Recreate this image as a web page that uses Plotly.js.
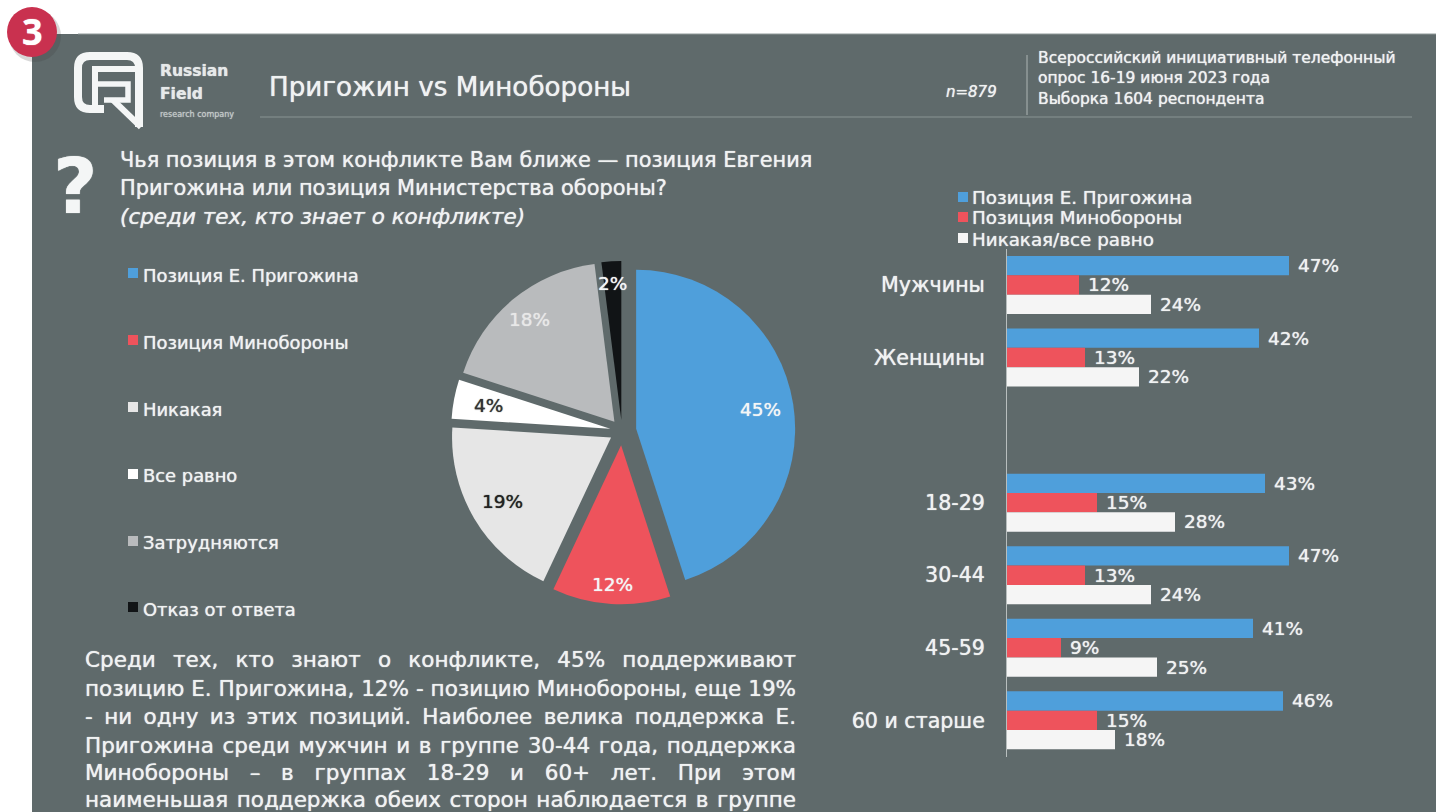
<!DOCTYPE html>
<html>
<head>
<meta charset="utf-8">
<script src="https://cdn.plot.ly/plotly-3.0.1.min.js"></script>
<style>html,body{margin:0;padding:0;background:#fff;overflow:hidden}</style>
</head>
<body>
<div id="chart" style="width:1449px;height:812px"></div>
<script>
// ---------- data ----------
const pieLabels = ['Позиция Е. Пригожина','Позиция Минобороны','Никакая','Все равно','Затрудняются','Отказ от ответа'];
const pieValues = [45,12,19,4,18,2];
const pieColors = ['#4f9fdb','#ee535c','#e6e6e6','#ffffff','#b9bbbd','#111416'];
const pieTextColors = ['#f4f6f6','#f4f6f6','#222222','#333333','#e8e8e8','#f4f6f6'];

const barCategories = ['Мужчины','Женщины',' ','18-29','30-44','45-59','60 и старше'];
const seriesNames = ['Позиция Е. Пригожина','Позиция Минобороны','Никакая/все равно'];
const prigozhin = [47,42,null,43,47,41,46];
const minoborony = [12,13,null,15,13,9,15];
const noneCare = [24,22,null,28,24,25,18];
const barColors = ['#4f9fdb','#ee535c','#f5f5f5'];

const paragraphLines = [
 'Среди тех, кто знают о конфликте, 45% поддерживают',
 'позицию Е. Пригожина, 12% - позицию Минобороны, еще 19%',
 '- ни одну из этих позиций. Наиболее велика поддержка Е.',
 'Пригожина среди мужчин и в группе 30-44 года, поддержка',
 'Минобороны – в группах 18-29 и 60+ лет. При этом',
 'наименьшая поддержка обеих сторон наблюдается в группе'
];
const surveyLines = ['Всероссийский инициативный телефонный','опрос 16-19 июня 2023 года','Выборка 1604 респондента'];
const questionLines = ['Чья позиция в этом конфликте Вам ближе — позиция Евгения','Пригожина или позиция Министерства обороны?'];
const questionNote = '(среди тех, кто знает о конфликте)';
const titleText = 'Пригожин vs Минобороны';
const sampleText = 'n=879';

// ---------- layout helpers ----------
const W = 1449, H = 812;
const px = x => x / W, py = y => 1 - y / H;
const SANS = '"DejaVu Sans", sans-serif';
const PANEL = '#5f6a6b', TXT = '#f0f2f2';
function note(text, x, y, size, opt) {
  opt = opt || {};
  const color = opt.color||TXT;
  return {text, xref:'paper', yref:'paper', x:px(x), y:py(y), showarrow:false,
    xanchor:opt.xanchor||'left', yanchor:'middle', align:opt.xanchor||'left', borderpad:0,
    font:{family:opt.family||SANS, size, color, shadow:'0 0 1px '+color}};
}
function rect(x0,y0,x1,y1,color,layer){
  return {type:'rect',xref:'paper',yref:'paper',x0:px(x0),x1:px(x1),y0:py(y0),y1:py(y1),
    fillcolor:color,line:{width:0},layer:layer||'below'};
}
function line(x0,y0,x1,y1,color,w){
  return {type:'line',xref:'paper',yref:'paper',x0:px(x0),x1:px(x1),y0:py(y0),y1:py(y1),
    line:{color,width:w||1},layer:'below'};
}
function circle(cx,cy,r,color){
  return {type:'circle',xref:'paper',yref:'paper',x0:px(cx-r),x1:px(cx+r),y0:py(cy+r),y1:py(cy-r),
    fillcolor:color,line:{width:0},layer:'below'};
}
// logo strokes, given in pixels
function logoPath(points, w){
  const d = points.map((p,i)=>{
    if (p.length===4) return 'Q '+px(p[0])+' '+py(p[1])+' '+px(p[2])+' '+py(p[3]);
    return (i?'L ':'M ')+px(p[0])+' '+py(p[1]);
  }).join(' ');
  return {type:'path',xref:'paper',yref:'paper',path:d,line:{color:'#f4f6f6',width:w},layer:'below'};
}

// ---------- pie ----------
const PIE_CX = 622, PIE_CY = 431, PIE_R = 159, MAX_PULL = 0.09;
const piePull = [0.09,0.09,0.08,0.075,0.075,0.07];
const pieOuter = PIE_R*(1+MAX_PULL);
const pieLabelRadius = [0.88,0.97,0.87,0.855,0.91,0.93];

const traces = [{
  type:'pie', labels:pieLabels, values:pieValues, sort:false, direction:'clockwise', rotation:0,
  pull:piePull, marker:{colors:pieColors,line:{width:0}},
  textinfo:'none', showlegend:false, hoverinfo:'label+percent',
  domain:{x:[px(PIE_CX-pieOuter),px(PIE_CX+pieOuter)],y:[py(PIE_CY+pieOuter),py(PIE_CY-pieOuter)]}
}];
[prigozhin,minoborony,noneCare].forEach((vals,i)=>{
  traces.push({
    type:'bar', orientation:'h', name:seriesNames[i], y:barCategories, x:vals,
    marker:{color:barColors[i]}, xaxis:'x', yaxis:'y',
    text:vals.map(v=>v===null?'':'\u00a0'+v+'%'), textposition:'outside', cliponaxis:false,
    constraintext:'none',
    textfont:{family:SANS,size:18.5,color:TXT,shadow:'0 0 1px '+TXT}, showlegend:false
  });
});

// ---------- annotations ----------
const annotations = [];
annotations.push(note('<b>3</b>',32,32,36,{xanchor:'center',color:'#ffffff',family:'"Noto Sans", sans-serif'}));
annotations.push(note('<b>Russian</b>',158.5,71,15.5,{color:'#e6e9e9'}));
annotations.push(note('<b>Field</b>',158.5,94,15.5,{color:'#e6e9e9'}));
annotations.push(note('research company',158.5,114,8,{color:'#c4caca'}));
annotations.push(note(titleText,268,87,26.2));
annotations.push(note('<i>'+sampleText+'</i>',945,92,15));
surveyLines.forEach((t,i)=>annotations.push(note(t,1036.5,[58,78,99][i],15.5)));
annotations.push(note('<b>?</b>',52,186,77,{color:'#f4f6f6'}));
questionLines.forEach((t,i)=>annotations.push(note(t,119,[160,188][i],20.9)));
annotations.push(note('<i>'+questionNote+'</i>',119,217,21.5));
pieLabels.forEach((t,i)=>annotations.push(note(t,142,[275,342,409,476,542,609][i],17.9)));
seriesNames.forEach((t,i)=>annotations.push(note(t,971,[198,218,239][i],18.3)));
// pie percent labels from slice mid-angles
let cum = 0; const total = pieValues.reduce((a,b)=>a+b,0);
pieValues.forEach((v,i)=>{
  const mid = (cum+v/2)/total*2*Math.PI; cum += v;
  const r = PIE_R*pieLabelRadius[i];
  annotations.push(note(v+'%',PIE_CX+r*Math.sin(mid),PIE_CY-r*Math.cos(mid),18.5,{xanchor:'center',color:pieTextColors[i]}));
});
const firstParagraph = annotations.length;
const paragraphY = [659,688,716,745,772,799];
paragraphLines.forEach((t,i)=>annotations.push(note(t,84,paragraphY[i],21.5)));

// ---------- shapes ----------
const shapes = [
  rect(32,34,1436,812,PANEL),
  line(78,34,1436,34,'#8f9898',1),
  line(260,117,1412,117,'#8a9494',1),
  line(1027,55,1027,115,'#aeb5b5',1),
  circle(35,36,26,'rgba(60,60,60,0.2)'),
  circle(32,32,25,'#c9314f'),
  logoPath([[104,109],[90,109],[78,109,78,97],[78,68],[78,56,90,56],[127,56],[139,56,139,68],[139,127]],8),
  logoPath([[95,112],[95,69],[137,69]],6),
  logoPath([[96,84],[128,84],[128,100],[104,100]],5.5),
  logoPath([[113,100],[141,127]],6),
];
pieColors.forEach((c,i)=>{const y=[273,340,407,474,541,607][i];shapes.push(rect(128,y-5,138,y+5,c));});
barColors.forEach((c,i)=>{const y=[197,217,238][i];shapes.push(rect(958,y-5,968,y+5,c));});

const layout = {
  width:W, height:H, margin:{l:0,r:0,t:0,b:0}, paper_bgcolor:'#ffffff', plot_bgcolor:'rgba(0,0,0,0)',
  barmode:'group', bargap:0.2, bargroupgap:0, showlegend:false,
  xaxis:{domain:[px(1007),px(1367)],range:[0,60],visible:false,fixedrange:true},
  yaxis:{domain:[py(756.6),py(248.7)],type:'category',categoryorder:'array',categoryarray:barCategories,
    autorange:'reversed',showgrid:false,zeroline:false,showline:true,linecolor:'#b8bebe',linewidth:1,
    ticks:'',ticklabelstandoff:17,tickfont:{family:SANS,size:20.6,color:TXT,shadow:'0 0 1px '+TXT},fixedrange:true},
  shapes, annotations
};
Plotly.newPlot('chart',traces,layout,{displayModeBar:false,staticPlot:true}).then(()=>{
  // justify the paragraph lines to the column width, as in the source
  const target = 711;
  paragraphLines.forEach((t,i)=>{
    const g = document.querySelector('.annotation[data-index="'+(firstParagraph+i)+'"] text');
    if(!g) return;
    const gaps = t.split(' ').length-1;
    const w = g.getComputedTextLength();
    g.style.wordSpacing = ((target-w)/gaps)+'px';
  });
});
</script>
</body>
</html>
